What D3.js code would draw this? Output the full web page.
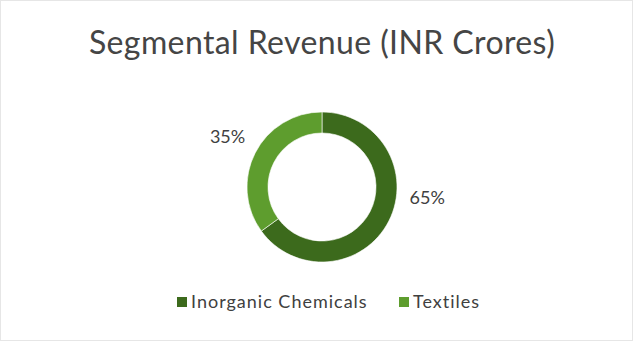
<!DOCTYPE html>
<html>
<head>
<meta charset="utf-8">
<script src="https://cdn.jsdelivr.net/npm/d3@7"></script>
<style>
  body { margin: 0; background: #fff; }
  svg { display: block; font-family: "Lato", "Open Sans", sans-serif; }
</style>
</head>
<body>
<div id="chart"></div>
<script>
const segments = ["Inorganic Chemicals", "Textiles"];
const shares = [65, 35];
const colors = ["#3c6a1c", "#5e9d2e"];

const width = 633;
const height = 341;
const cx = 322;
const cy = 187;
const outerR = 75;
const innerR = 54;
// Excel "best fit" moves the big label up a bit from the slice middle
const labelShift = [-20, 0]; // degrees

const svg = d3.select("#chart")
  .append("svg")
  .attr("width", width)
  .attr("height", height);

svg.append("rect")
  .attr("x", 0.5).attr("y", 0.5)
  .attr("width", width - 1).attr("height", height - 1)
  .attr("fill", "#fff")
  .attr("stroke", "#e6e6e6");

svg.append("text")
  .attr("x", 322)
  .attr("y", 54)
  .attr("text-anchor", "middle")
  .attr("font-size", 32)
  .attr("letter-spacing", 0.4)
  .attr("fill", "#454545")
  .text("Segmental Revenue (INR Crores)");

const data = segments.map((s, i) => ({ name: s, value: shares[i], color: colors[i], shift: labelShift[i] }));

const pie = d3.pie().sort(null).value((d) => d.value);
const arc = d3.arc().innerRadius(innerR).outerRadius(outerR);
const labelR = 106;

const g = svg.append("g").attr("transform", `translate(${cx}, ${cy})`);
const arcs = pie(data);

g.selectAll("path")
  .data(arcs)
  .enter()
  .append("path")
  .attr("d", arc)
  .attr("fill", (d) => d.data.color)
  .attr("stroke", "#fff")
  .attr("stroke-width", 0.6);

g.selectAll("text")
  .data(arcs)
  .enter()
  .append("text")
  .attr("transform", (d) => {
    const a = (d.startAngle + d.endAngle) / 2 + (d.data.shift * Math.PI) / 180;
    return `translate(${labelR * Math.sin(a)}, ${-labelR * Math.cos(a)})`;
  })
  .attr("text-anchor", "middle")
  .attr("dominant-baseline", "middle")
  .attr("font-size", 18)
  .attr("fill", "#404040")
  .text((d) => `${d.data.value}%`);

// legend
const legendX = [177, 399];
const legend = svg.append("g").attr("transform", "translate(0, 302)");
const items = legend.selectAll("g")
  .data(data)
  .enter()
  .append("g")
  .attr("transform", (d, i) => `translate(${legendX[i]}, 0)`);
items.append("rect")
  .attr("x", 0).attr("y", -5)
  .attr("width", 10).attr("height", 10)
  .attr("fill", (d) => d.color);
items.append("text")
  .attr("x", 14)
  .attr("y", 1)
  .attr("dominant-baseline", "middle")
  .attr("font-size", 18)
  .attr("letter-spacing", 1)
  .attr("fill", "#404040")
  .text((d) => d.name);
</script>
</body>
</html>
